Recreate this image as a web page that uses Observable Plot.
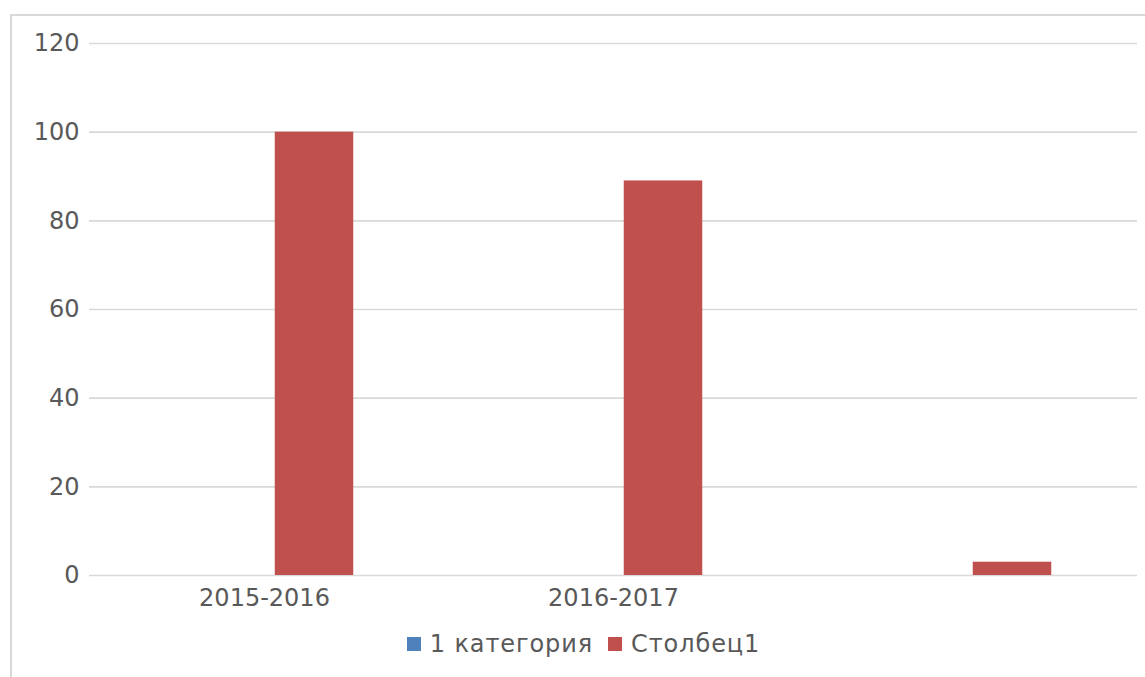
<!DOCTYPE html>
<html>
<head>
<meta charset="utf-8">
<script src="https://cdn.jsdelivr.net/npm/d3@7"></script>
<script src="https://cdn.jsdelivr.net/npm/@observablehq/plot@0.6"></script>
<style>
  html, body { margin: 0; padding: 0; background: #fff; overflow: hidden; }
  body { width: 1145px; height: 677px; position: relative; font-family: "DejaVu Sans", sans-serif; }
  #frame { position: absolute; left: 10px; top: 14px; width: 1200px; height: 720px; border: 2px solid #D9D9D9; box-sizing: border-box; }
  #chart { position: absolute; left: 0; top: 0; }
  #legend { position: absolute; left: 0; top: 630px; width: 1167px; text-align: center; font-size: 24px; color: #595959; letter-spacing: 0.9px; white-space: nowrap; }
  #legend span.sw { display: inline-block; width: 14px; height: 14px; margin-right: 9px; vertical-align: 1px; }
  #legend span.item { display: inline-block; }
  #legend span.item + span.item { margin-left: 15px; }
</style>
</head>
<body>
<div id="frame"></div>
<div id="chart"></div>
<div id="legend"></div>
<script>
const categories = ["2015-2016", "2016-2017", ""];
const seriesNames = ["1 категория", "Столбец1"];
const series1 = [0, 0, 0];
const series2 = [100, 89, 3];
const colors = ["#4F81BD", "#C0504D"];
const yTicks = [0, 20, 40, 60, 80, 100, 120];

const data = [];
categories.forEach((c, i) => {
  data.push({cat: c, series: seriesNames[0], value: series1[i]});
  data.push({cat: c, series: seriesNames[1], value: series2[i]});
});

const W = 1145, H = 620;
const step = 349.5, barW = 79;
const half = step / 2;

const chart = Plot.plot({
  width: W,
  height: H,
  marginTop: 43,
  marginBottom: 45,
  marginLeft: 89,
  marginRight: 8,
  style: {fontFamily: "DejaVu Sans, sans-serif", fontSize: "24px", color: "#595959", background: "transparent"},
  x: {type: "band", domain: categories, range: [99.25, 99.25 + step * categories.length], padding: 0, label: null},
  y: {domain: [0, 120], label: null},
  color: {domain: seriesNames, range: colors},
  marks: [
    Plot.ruleY(yTicks, {stroke: "#D9D9D9", strokeWidth: 1.6}),
    Plot.barY(data.filter(d => d.series === seriesNames[0]), {x: "cat", y: "value", fill: "series", insetLeft: half - barW, insetRight: half}),
    Plot.barY(data.filter(d => d.series === seriesNames[1]), {x: "cat", y: "value", fill: "series", insetLeft: half, insetRight: step - half - barW}),
    Plot.axisY({ticks: yTicks, tickSize: 0, tickPadding: 10, fill: "#595959", label: null}),
    Plot.axisX({tickSize: 0, tickPadding: 13, dx: -10.5, fill: "#595959", label: null})
  ]
});
document.getElementById("chart").appendChild(chart);

const legend = document.getElementById("legend");
seriesNames.forEach((n, i) => {
  const it = document.createElement("span");
  it.className = "item";
  const sw = document.createElement("span");
  sw.className = "sw";
  sw.style.background = colors[i];
  it.appendChild(sw);
  it.appendChild(document.createTextNode(n));
  legend.appendChild(it);
});
</script>
</body>
</html>
